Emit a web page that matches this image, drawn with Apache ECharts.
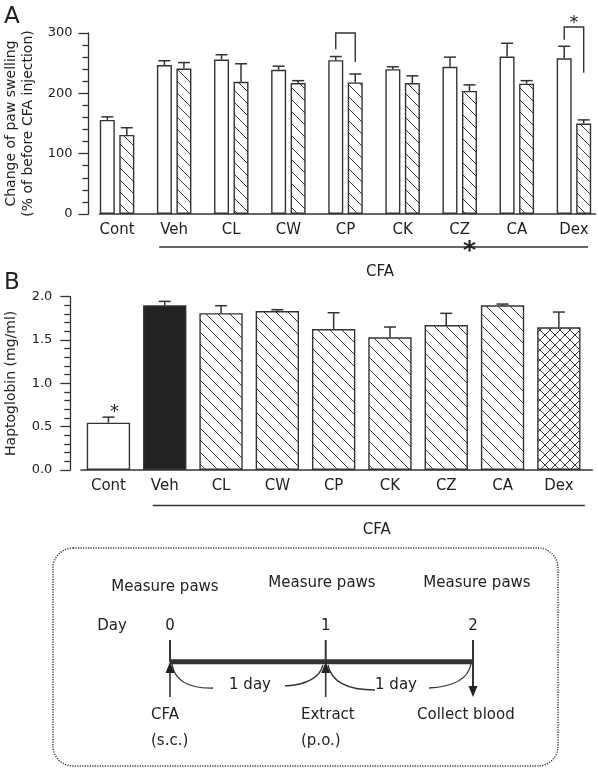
<!DOCTYPE html>
<html><head><meta charset="utf-8">
<script src="https://cdn.jsdelivr.net/npm/echarts@6/dist/echarts.min.js"></script>
<style>html,body{margin:0;padding:0;background:#fff}#c{width:598px;height:769px}</style>
</head><body><div id="c"></div>
<script>
// ---------- data ----------
const categories = ['Cont','Veh','CL','CW','CP','CK','CZ','CA','Dex'];
const swellDay1 = [156,247,256,239,255,240,244,261,258];
const swellDay1Err = [5,7,8,6,6,4,16,22,20];
const swellDay2 = [131,241,219,217,218,217,204,216,150];
const swellDay2Err = [12,10,30,4,14,12,10,5,6];
const yTicksA = [0,100,200,300];
const hapto = [0.546,1.90,1.81,1.835,1.627,1.531,1.673,1.90,1.646];
const haptoErr = [0.064,0.046,0.086,0.015,0.188,0.119,0.135,0.015,0.177];
const haptoFill = ['open','solid','hatch','hatch','hatch','hatch','hatch','hatch','cross'];
const yTicksB = [0,0.5,1.0,1.5,2.0];
const brackets = [
  {cat:'CP', top:300, left:273, right:252, star:false},
  {cat:'Dex', top:310, left:289, right:234, star:true}
];
const groupLabel = 'CFA';
const timelineDays = ['0','1','2'];
const timelineTop = ['Measure paws','Measure paws','Measure paws'];
const timelineBottom = [['CFA','(s.c.)'],['Extract','(p.o.)'],['Collect blood','']];

// ---------- style ----------
const FONT = '"DejaVu Sans", "Liberation Sans", Arial, sans-serif';
const INK = '#222', LINE = '#333';

function makePattern(kind, size){
  const c = document.createElement('canvas'); c.width = size; c.height = size;
  const g = c.getContext('2d');
  g.fillStyle = '#fff'; g.fillRect(0,0,size,size);
  g.strokeStyle = '#3a3a3a'; g.lineWidth = 1;
  const diag = dir => {
    for (let k=-1;k<=1;k++){
      g.beginPath();
      if (dir>0){ g.moveTo(k*size,0); g.lineTo(k*size+size,size); }
      else { g.moveTo(k*size+size,0); g.lineTo(k*size,size); }
      g.stroke();
    }
  };
  diag(1); if (kind==='cross') diag(-1);
  return {image:c, repeat:'repeat'};
}
const hatchA = makePattern('hatch', 12);
const hatchB = makePattern('hatch', 12);
const crossB = makePattern('cross', 10);
const fills = {open:'#fff', solid:'#222', hatch:hatchB, cross:crossB};

const BW_A = 15, GAP_A = 0.3, OFF_A = (BW_A + BW_A*GAP_A)/2;

function errRender(offset, cap){
  return function(params, api){
    const i = api.value(0), v = api.value(1), e = api.value(2);
    const p0 = api.coord([i, v]), p1 = api.coord([i, v+e]);
    const x = p0[0] + offset;
    const st = {stroke:LINE, lineWidth:1.5};
    return {type:'group', children:[
      {type:'line', shape:{x1:x,y1:p0[1],x2:x,y2:p1[1]}, style:st},
      {type:'line', shape:{x1:x-cap/2,y1:p1[1],x2:x+cap/2,y2:p1[1]}, style:st}
    ]};
  };
}

const chart = echarts.init(document.getElementById('c'), null, {renderer:'canvas'});
const axisLineStyle = {color:LINE, width:1.3};

const option = {
  animation:false,
  backgroundColor:'#fff',
  textStyle:{fontFamily:FONT},
  grid:[
    {left:88.5, right:-4.5, top:33, height:181, outerBoundsMode:'none', containLabel:false},
    {left:80.3, right:11, top:296.7, height:173.3, outerBoundsMode:'none', containLabel:false}
  ],
  xAxis:[
    {type:'category', gridIndex:0, data:categories,
      axisLine:{show:false}, axisTick:{show:false},
      axisLabel:{fontSize:15, color:INK, margin:9, fontFamily:FONT}},
    {type:'category', gridIndex:1, data:categories,
      axisLine:{show:false}, axisTick:{show:false},
      axisLabel:{fontSize:15, color:INK, margin:9, fontFamily:FONT}}
  ],
  yAxis:[
    {type:'value', gridIndex:0, min:yTicksA[0], max:yTicksA[yTicksA.length-1], interval:yTicksA[1]-yTicksA[0],
      name:'Change of paw swelling\n(% of before CFA injection)', nameLocation:'middle', nameGap:52,
      nameTextStyle:{fontSize:14, color:INK, lineHeight:17, fontFamily:FONT},
      axisLine:{show:true, lineStyle:axisLineStyle},
      axisTick:{show:true, length:10, lineStyle:axisLineStyle},
      minorTick:{show:true, splitNumber:5, length:6, lineStyle:axisLineStyle},
      splitLine:{show:false},
      axisLabel:{fontSize:13, color:INK, margin:16, fontFamily:FONT}},
    {type:'value', gridIndex:1, offset:10, min:yTicksB[0], max:yTicksB[yTicksB.length-1], interval:yTicksB[1]-yTicksB[0],
      name:'Haptoglobin (mg/ml)', nameLocation:'middle', nameGap:52,
      nameTextStyle:{fontSize:14, color:INK, fontFamily:FONT},
      axisLine:{show:true, lineStyle:axisLineStyle},
      axisTick:{show:true, length:10, lineStyle:axisLineStyle},
      minorTick:{show:true, splitNumber:5, length:6, lineStyle:axisLineStyle},
      splitLine:{show:false},
      axisLabel:{fontSize:13, color:INK, margin:18, fontFamily:FONT, formatter:v=>v.toFixed(1)}}
  ],
  series:[
    {type:'bar', xAxisIndex:0, yAxisIndex:0, data:swellDay1, barWidth:BW_A, barGap:(GAP_A*100)+'%',
      itemStyle:{color:'#fff', borderColor:LINE, borderWidth:1.4}},
    {type:'bar', xAxisIndex:0, yAxisIndex:0, data:swellDay2, barWidth:BW_A,
      itemStyle:{color:hatchA, borderColor:LINE, borderWidth:1.4}},
    {type:'custom', xAxisIndex:0, yAxisIndex:0, z:5, renderItem:errRender(-OFF_A, 12),
      data:swellDay1.map((v,i)=>[i,v,swellDay1Err[i]]), encode:{x:0,y:1}},
    {type:'custom', xAxisIndex:0, yAxisIndex:0, z:5, renderItem:errRender(OFF_A, 12),
      data:swellDay2.map((v,i)=>[i,v,swellDay2Err[i]]), encode:{x:0,y:1}},
    {type:'bar', xAxisIndex:1, yAxisIndex:1, barWidth:'77%',
      data:hapto.map((v,i)=>({value:v, itemStyle:{color:fills[haptoFill[i]]}})),
      itemStyle:{borderColor:LINE, borderWidth:1.4}},
    {type:'custom', xAxisIndex:1, yAxisIndex:1, z:5, renderItem:errRender(0, 12),
      data:hapto.map((v,i)=>[i,v,haptoErr[i]]), encode:{x:0,y:1}}
  ]
};
chart.setOption(option);

// ---------- annotations (positions derived from the axes) ----------
const pA = (c,v)=>chart.convertToPixel({gridIndex:0},[c,v]);
const pB = (c,v)=>chart.convertToPixel({gridIndex:1},[c,v]);
const ls = (x1,y1,x2,y2,w)=>({type:'line', shape:{x1,y1,x2,y2}, style:{stroke:LINE, lineWidth:w||1.4}});
const txt = (s,x,y,size,align,weight)=>({type:'text', style:{text:s, x, y, font:(weight?weight+' ':'')+size+'px '+FONT, fill:INK, align:align||'center', verticalAlign:'middle'}});
const g = [];
const last = categories.length-1;
// panel A axis line
const a0 = pA(0,0), aL = pA(last,0);
g.push(ls(a0[0]-18, a0[1], aL[0]+22, a0[1], 1.4));
// panel B axis line
const b0 = pB(0,0), bL = pB(last,0);
g.push(ls(b0[0]-28, b0[1], bL[0]+34, b0[1], 1.4));
// CFA group lines
const aVeh = pA(1,0), bVeh = pB(1,0);
const yA = a0[1]+33, yB = b0[1]+35.5;
g.push(ls(aVeh[0]-15, yA, aL[0]+14, yA, 1.4));
g.push(txt(groupLabel, (aVeh[0]+aL[0])/2+6, yA+25, 15));
g.push(ls(bVeh[0]-12, yB, bL[0]+26, yB, 1.4));
g.push(txt(groupLabel, (bVeh[0]+bL[0])/2+15, yB+25, 15));
// star on CZ under panel A
const cz = pA(categories.indexOf('CZ'),0);
g.push(txt('*', cz[0]+OFF_A, yA+4, 25, 'center', 'bold'));
// brackets
brackets.forEach(b=>{
  const i = categories.indexOf(b.cat);
  const top = pA(i,b.top), l = pA(i,b.left), r = pA(i,b.right);
  const xl = top[0]-OFF_A, xr = top[0]+OFF_A;
  g.push({type:'polyline', shape:{points:[[xl,l[1]],[xl,top[1]],[xr,top[1]],[xr,r[1]]]}, style:{stroke:LINE, lineWidth:1.4, fill:null}});
  if (b.star) g.push(txt('*', (xl+xr)/2, top[1]-4, 18));
});
// star above Cont in B
const bc = pB(0, hapto[0]+haptoErr[0]);
g.push(txt('*', bc[0]+6, bc[1]-5, 18));
// panel letters
g.push(txt('A', 4, 17, 23, 'left'));
g.push(txt('B', 4, 283, 23, 'left'));

// ---------- timeline diagram ----------
g.push({type:'rect', shape:{x:53, y:548, width:505, height:218, r:20},
  style:{fill:null, stroke:'#333', lineWidth:1.4, lineDash:[1.2,1.3]}});
const tx = [170, 325.7, 473];
const lineY = 661.7;
timelineTop.forEach((s,i)=>g.push(txt(s, [165,322,477][i], [587,583,583][i], 15)));
g.push(txt('Day', 112, 626, 15));
timelineDays.forEach((s,i)=>g.push(txt(s, tx[i], 626, 15)));
g.push(ls(tx[0], lineY, tx[2], lineY, 5));
g.push(ls(tx[0], 640, tx[0], lineY, 2));
g.push(ls(tx[1], 640, tx[1], lineY, 2));
g.push(ls(tx[2], 640, tx[2], 688, 2));
g.push({type:'polygon', shape:{points:[[tx[2]-4.5,686],[tx[2]+4.5,686],[tx[2],697]]}, style:{fill:INK}});
[tx[0], tx[1]].forEach(x=>{
  g.push(ls(x, 670, x, 697, 1.6));
  g.push({type:'polygon', shape:{points:[[x-4.5,673],[x+4.5,673],[x,662]]}, style:{fill:INK}});
});
const curve = (x1,y1,cx,cy,x2,y2)=>({type:'bezierCurve', shape:{x1,y1,x2,y2,cpx1:cx,cpy1:cy}, style:{stroke:LINE, lineWidth:1.3, fill:null}});
g.push(curve(172,664, 176,689, 213,688));
g.push(curve(285,686, 318,684, 323,665));
g.push(curve(328,665, 333,690, 375,690));
g.push(curve(429,688, 467,686, 471,664));
g.push(txt('1 day', 250, 685, 15));
g.push(txt('1 day', 396, 685, 15));
g.push(txt(timelineBottom[0][0], 151, 715, 15, 'left'));
g.push(txt(timelineBottom[0][1], 151, 741, 15, 'left'));
g.push(txt(timelineBottom[1][0], 301, 715, 15, 'left'));
g.push(txt(timelineBottom[1][1], 301, 741, 15, 'left'));
g.push(txt(timelineBottom[2][0], 417, 715, 15, 'left'));

chart.setOption({graphic:{elements:g}});
</script></body></html>
